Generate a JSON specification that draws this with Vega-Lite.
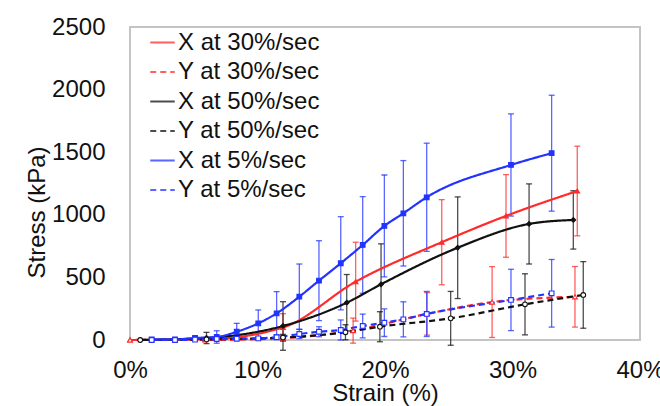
{
  "$schema": "https://vega.github.io/schema/vega-lite/v6.json",
  "autosize": {"type": "none"},
  "width": 510,
  "height": 313,
  "padding": {"left": 130, "top": 27, "right": 20, "bottom": 66},
  "background": "white",
  "config": {
    "font": "Liberation Sans",
    "view": {"stroke": "#c4c4c4", "strokeWidth": 2},
    "axis": {"grid": false, "domain": false, "ticks": false, "labelFont": "Liberation Sans", "labelFontSize": 24, "labelColor": "#111", "titleFont": "Liberation Sans", "titleFontSize": 24, "titleFontWeight": "normal", "titleColor": "#111"},
    "legend": {"labelFont": "Liberation Sans", "labelFontSize": 24, "labelColor": "#111"}
  },
  "resolve": {"legend": {"shape": "independent", "fill": "independent", "stroke": "independent"}},
  "data": {"values": [
    {"series": "X at 30%/sec", "strain": 0, "stress": 0, "err": 0},
    {"series": "X at 30%/sec", "strain": 5.9, "stress": 5, "err": 5},
    {"series": "X at 30%/sec", "strain": 12.0, "stress": 100, "err": 110},
    {"series": "X at 30%/sec", "strain": 17.7, "stress": 466, "err": 315},
    {"series": "X at 30%/sec", "strain": 24.45, "stress": 781, "err": 340},
    {"series": "X at 30%/sec", "strain": 29.49, "stress": 991, "err": 330},
    {"series": "X at 30%/sec", "strain": 35.08, "stress": 1190, "err": 358},
    {"series": "Y at 30%/sec", "strain": 0, "stress": 0, "err": 0},
    {"series": "Y at 30%/sec", "strain": 5.9, "stress": 0, "err": 5},
    {"series": "Y at 30%/sec", "strain": 12.0, "stress": 15, "err": 20},
    {"series": "Y at 30%/sec", "strain": 17.5, "stress": 75, "err": 100},
    {"series": "Y at 30%/sec", "strain": 23.3, "stress": 209, "err": 170},
    {"series": "Y at 30%/sec", "strain": 28.4, "stress": 303, "err": 283},
    {"series": "Y at 30%/sec", "strain": 34.9, "stress": 345, "err": 242},
    {"series": "X at 50%/sec", "strain": 0.8, "stress": 0, "err": 0},
    {"series": "X at 50%/sec", "strain": 6.0, "stress": 16, "err": 45},
    {"series": "X at 50%/sec", "strain": 12.0, "stress": 112, "err": 194},
    {"series": "X at 50%/sec", "strain": 17.0, "stress": 298, "err": 225},
    {"series": "X at 50%/sec", "strain": 19.69, "stress": 445, "err": 323},
    {"series": "X at 50%/sec", "strain": 25.7, "stress": 737, "err": 406},
    {"series": "X at 50%/sec", "strain": 31.3, "stress": 927, "err": 320},
    {"series": "X at 50%/sec", "strain": 34.77, "stress": 959, "err": 233},
    {"series": "Y at 50%/sec", "strain": 0.8, "stress": 0, "err": 0},
    {"series": "Y at 50%/sec", "strain": 6.0, "stress": 5, "err": 10},
    {"series": "Y at 50%/sec", "strain": 12.0, "stress": 20, "err": 25},
    {"series": "Y at 50%/sec", "strain": 16.9, "stress": 62, "err": 60},
    {"series": "Y at 50%/sec", "strain": 19.6, "stress": 106, "err": 120},
    {"series": "Y at 50%/sec", "strain": 25.15, "stress": 173, "err": 215},
    {"series": "Y at 50%/sec", "strain": 30.98, "stress": 285, "err": 244},
    {"series": "Y at 50%/sec", "strain": 35.55, "stress": 360, "err": 266},
    {"series": "X at 5%/sec", "strain": 1.7, "stress": 5, "err": 0},
    {"series": "X at 5%/sec", "strain": 3.53, "stress": 5, "err": 0},
    {"series": "X at 5%/sec", "strain": 5.1, "stress": 16, "err": 10},
    {"series": "X at 5%/sec", "strain": 6.8, "stress": 24, "err": 50},
    {"series": "X at 5%/sec", "strain": 8.37, "stress": 66, "err": 67},
    {"series": "X at 5%/sec", "strain": 10.06, "stress": 133, "err": 107},
    {"series": "X at 5%/sec", "strain": 11.5, "stress": 213, "err": 173},
    {"series": "X at 5%/sec", "strain": 13.28, "stress": 346, "err": 261},
    {"series": "X at 5%/sec", "strain": 14.82, "stress": 474, "err": 319},
    {"series": "X at 5%/sec", "strain": 16.53, "stress": 613, "err": 372},
    {"series": "X at 5%/sec", "strain": 18.25, "stress": 759, "err": 386},
    {"series": "X at 5%/sec", "strain": 19.95, "stress": 911, "err": 407},
    {"series": "X at 5%/sec", "strain": 21.44, "stress": 1012, "err": 421},
    {"series": "X at 5%/sec", "strain": 23.27, "stress": 1140, "err": 432},
    {"series": "X at 5%/sec", "strain": 29.88, "stress": 1398, "err": 408},
    {"series": "X at 5%/sec", "strain": 33.07, "stress": 1492, "err": 463},
    {"series": "Y at 5%/sec", "strain": 1.7, "stress": 0, "err": 0},
    {"series": "Y at 5%/sec", "strain": 3.53, "stress": 0, "err": 0},
    {"series": "Y at 5%/sec", "strain": 5.1, "stress": 3, "err": 0},
    {"series": "Y at 5%/sec", "strain": 6.8, "stress": 8, "err": 5},
    {"series": "Y at 5%/sec", "strain": 8.37, "stress": 10, "err": 5},
    {"series": "Y at 5%/sec", "strain": 10.06, "stress": 13, "err": 5},
    {"series": "Y at 5%/sec", "strain": 11.5, "stress": 22, "err": 15},
    {"series": "Y at 5%/sec", "strain": 13.28, "stress": 48, "err": 37},
    {"series": "Y at 5%/sec", "strain": 14.82, "stress": 66, "err": 40},
    {"series": "Y at 5%/sec", "strain": 16.53, "stress": 80, "err": 80},
    {"series": "Y at 5%/sec", "strain": 18.25, "stress": 112, "err": 95},
    {"series": "Y at 5%/sec", "strain": 19.95, "stress": 138, "err": 110},
    {"series": "Y at 5%/sec", "strain": 21.44, "stress": 165, "err": 140},
    {"series": "Y at 5%/sec", "strain": 23.27, "stress": 208, "err": 180},
    {"series": "Y at 5%/sec", "strain": 29.88, "stress": 320, "err": 245},
    {"series": "Y at 5%/sec", "strain": 33.07, "stress": 373, "err": 270}
  ]},
  "encoding": {
    "x": {"field": "strain", "type": "quantitative", "scale": {"domain": [0, 40]},
      "axis": {"title": "Strain (%)", "values": [0, 10, 20, 30, 40], "labelExpr": "datum.value + '%'", "labelFlush": false, "labelPadding": 18, "titleY": 53, "titleBaseline": "middle"}},
    "y": {"field": "stress", "type": "quantitative", "scale": {"domain": [0, 2500]},
      "axis": {"title": "Stress (kPa)", "values": [0, 500, 1000, 1500, 2000, 2500], "format": "d", "labelFlush": false, "labelPadding": 25, "titleX": -93, "titleY": 185, "titleBaseline": "middle", "titleAlign": "center"}}
  },
  "layer": [
    {
      "transform": [{"filter": "datum.err > 0"}],
      "mark": {"type": "errorbar", "ticks": {"size": 6, "opacity": 0.75}, "rule": {"opacity": 0.75}, "thickness": 1.3},
      "encoding": {
        "yError": {"field": "err"},
        "color": {"field": "series", "type": "nominal"}
      }
    },
    {
      "mark": {"type": "line", "interpolate": "monotone", "strokeWidth": 2.2},
      "encoding": {
        "color": {"field": "series", "type": "nominal",
          "scale": {"domain": ["X at 30%/sec", "Y at 30%/sec", "X at 50%/sec", "Y at 50%/sec", "X at 5%/sec", "Y at 5%/sec"],
                    "range": ["#ff2b2b", "#ff2b2b", "#111111", "#111111", "#2233ff", "#2233ff"]},
          "legend": {"title": null, "orient": "none", "legendX": 19, "legendY": 2, "symbolType": "stroke", "symbolSize": 600, "symbolStrokeWidth": 2, "rowPadding": 3.5, "labelOffset": 2, "padding": 0}},
        "strokeDash": {"field": "series", "type": "nominal",
          "scale": {"domain": ["X at 30%/sec", "Y at 30%/sec", "X at 50%/sec", "Y at 50%/sec", "X at 5%/sec", "Y at 5%/sec"],
                    "range": [[1, 0], [6, 4], [1, 0], [6, 4], [1, 0], [6, 4]]},
          "legend": {"title": null, "orient": "none", "legendX": 19, "legendY": 2, "symbolType": "stroke", "symbolSize": 600, "symbolStrokeWidth": 2, "rowPadding": 3.5, "labelOffset": 2, "padding": 0}}
      }
    },
    {
      "mark": {"type": "point", "size": 22, "strokeWidth": 1.1, "opacity": 1},
      "encoding": {
        "shape": {"field": "series", "type": "nominal", "legend": null,
          "scale": {"domain": ["X at 30%/sec", "Y at 30%/sec", "X at 50%/sec", "Y at 50%/sec", "X at 5%/sec", "Y at 5%/sec"],
                    "range": ["triangle-up", "triangle-up", "diamond", "circle", "square", "square"]}},
        "fill": {"field": "series", "type": "nominal", "legend": null,
          "scale": {"domain": ["X at 30%/sec", "Y at 30%/sec", "X at 50%/sec", "Y at 50%/sec", "X at 5%/sec", "Y at 5%/sec"],
                    "range": ["#ff2b2b", "#ffffff", "#111111", "#ffffff", "#2233ff", "#ffffff"]}},
        "stroke": {"field": "series", "type": "nominal", "legend": null,
          "scale": {"domain": ["X at 30%/sec", "Y at 30%/sec", "X at 50%/sec", "Y at 50%/sec", "X at 5%/sec", "Y at 5%/sec"],
                    "range": ["#ff2b2b", "#ff2b2b", "#111111", "#111111", "#2233ff", "#2233ff"]}}
      }
    }
  ]
}
